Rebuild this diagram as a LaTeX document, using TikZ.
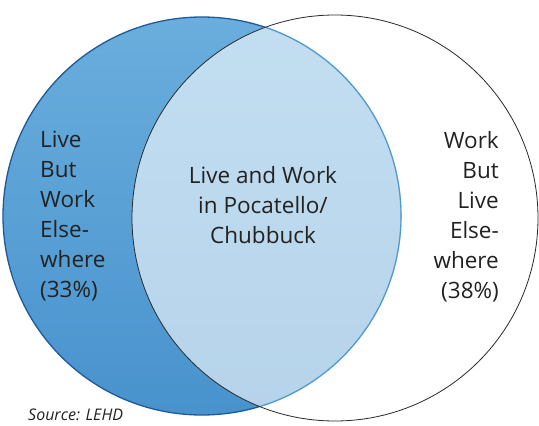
\documentclass[tikz,border=0pt]{standalone}
\usepackage{fontspec}
\setmainfont{Open Sans}
\definecolor{bluedark}{HTML}{1E5A9A}
\definecolor{bluemid}{HTML}{4A9AD2}
\definecolor{bluetop}{HTML}{6AAEDD}
\definecolor{bluebot}{HTML}{4892CD}
\definecolor{txt}{HTML}{222222}
\definecolor{ringgray}{HTML}{2A2A2A}
\tikzset{
  lbl/.style={font=\fontsize{22.5}{30}\selectfont, text=txt, inner sep=0pt},
  srclbl/.style={font=\fontsize{16}{20}\selectfont\itshape, text=txt, inner sep=0pt},
}
\begin{document}
\begin{tikzpicture}[x=1pt,y=-1pt]
\useasboundingbox (0,0) rectangle (539,426);
\clip (0,0) rectangle (539,426);
\fill[white] (0,0) rectangle (539,426);
\coordinate (lc) at (202,216);
\coordinate (rc) at (335,218);
% left circle (live)
\shade[top color=bluetop, bottom color=bluebot] (lc) circle[radius=199pt];
\draw[bluedark, line width=1.3pt] (lc) circle[radius=199pt];
% right circle (work) as a translucent white overlay
\fill[white, opacity=0.6] (rc) circle[radius=203pt];
\begin{scope}
  \clip (rc) circle[radius=203pt];
  \draw[bluemid, line width=1.1pt] (lc) circle[radius=199pt];
\end{scope}
\draw[ringgray, line width=0.8pt] (rc) circle[radius=203pt];
% labels
\node[lbl, anchor=north west, align=left] (lefttext) at (40,131) {Live\\But\\Work\\Else-\\where\\(33\%)};
\node[lbl, anchor=north, align=center] (midtext) at (263,166) {Live and Work\\in Pocatello/\\Chubbuck};
\node[lbl, anchor=north east, align=right] (righttext) at (499,131) {Work\\But\\Live\\Else-\\where\\(38\%)};
\node[srclbl, anchor=base west] (src) at (28,420) {Source: LEHD};
\end{tikzpicture}
\end{document}
